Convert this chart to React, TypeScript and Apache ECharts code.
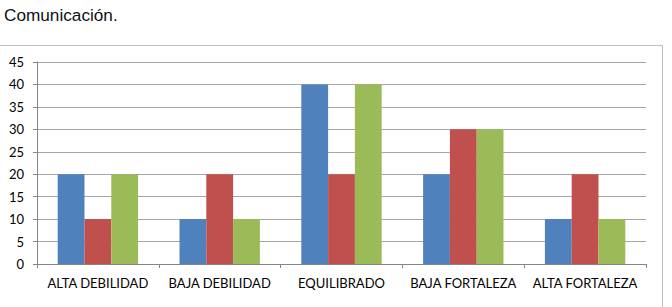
import React, { useEffect, useRef } from "react";
import * as echarts from "echarts";

const categories = ["ALTA DEBILIDAD", "BAJA DEBILIDAD", "EQUILIBRADO", "BAJA FORTALEZA", "ALTA FORTALEZA"];
const serie1 = [20, 10, 40, 20, 10];
const serie2 = [10, 20, 20, 30, 20];
const serie3 = [20, 10, 40, 30, 10];
const colors = ["#4F81BD", "#C0504D", "#9BBB59"];

export default function App() {
  const ref = useRef<HTMLDivElement>(null);
  useEffect(() => {
    document.body.style.margin = "0";
    const chart = echarts.init(ref.current!, undefined, { renderer: "svg" });
    const font = "Lato, 'Open Sans', sans-serif";
    chart.setOption({
      animation: false,
      backgroundColor: "#ffffff",
      title: {
        text: "Comunicación.",
        left: -1,
        top: 1,
        textStyle: { fontFamily: "'Liberation Sans', Arial, sans-serif", fontSize: 17.2, fontWeight: "normal", color: "#111" },
      },
      graphic: [
        {
          type: "polyline",
          shape: { points: [[-2, 45.5], [662.5, 45.5], [662.5, 320]] },
          style: { stroke: "#BEBEBE", lineWidth: 1, fill: "none" },
        },
      ],
      grid: { left: 37, right: 26, top: 62, bottom: 43 },
      xAxis: {
        type: "category",
        data: categories,
        axisLine: { lineStyle: { color: "#868686" } },
        axisTick: { show: true, length: 4, alignWithLabel: false, lineStyle: { color: "#868686" } },
        axisLabel: { color: "#000", fontFamily: font, fontSize: 13, margin: 12, interval: 0 },
      },
      yAxis: {
        type: "value",
        min: 0,
        max: 45,
        interval: 5,
        axisLine: { show: true, lineStyle: { color: "#868686" } },
        axisTick: { show: true, length: 4, lineStyle: { color: "#868686" } },
        axisLabel: { color: "#000", fontFamily: font, fontSize: 13, margin: 13 },
        splitLine: { lineStyle: { color: "#A6A6A6" } },
      },
      series: [serie1, serie2, serie3].map((d, i) => ({
        type: "bar",
        data: d,
        barGap: "0%",
        barCategoryGap: "34%",
        itemStyle: { color: colors[i] },
      })),
    });
    return () => chart.dispose();
  }, []);
  return <div ref={ref} style={{ width: 672, height: 307 }} />;
}
